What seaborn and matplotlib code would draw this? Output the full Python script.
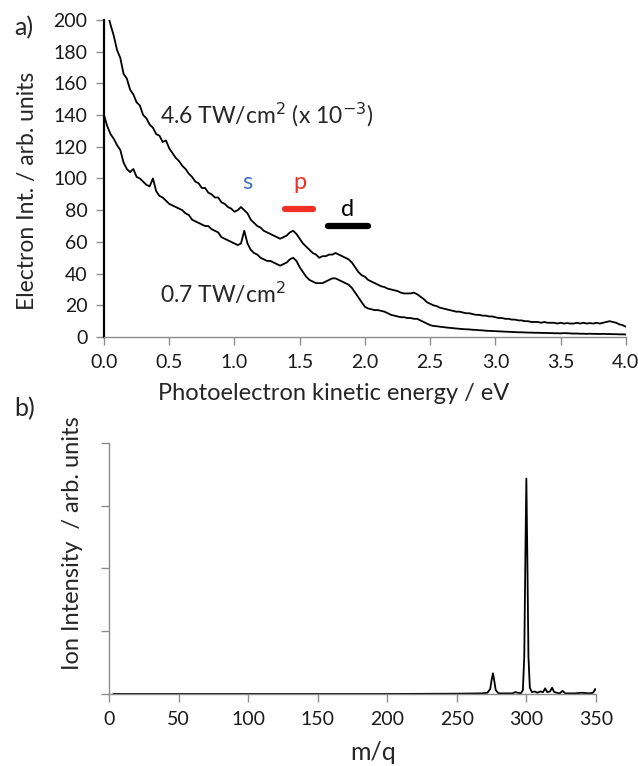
import numpy as np
import pandas as pd
import matplotlib.pyplot as plt
import seaborn as sns

# Photoelectron spectra (0.025 eV steps from 0 to 4 eV)
high_46 = [
    250, 205, 197, 190, 181, 176, 166, 163,
    156, 153, 148, 146, 140, 138, 134, 132,
    128, 127, 123, 124, 119, 116, 113, 111,
    108, 106, 103, 101, 98, 97, 94, 94,
    91, 90, 88, 88, 85, 84, 82, 81,
    79, 80, 82, 80, 78, 74, 72, 70,
    69, 67, 66, 65, 64, 63, 62, 63,
    64, 66, 67, 65, 62, 59, 57, 55,
    53, 52, 50, 51, 51, 52, 52, 53,
    52, 51, 50, 49, 47, 44, 41, 39,
    38, 36, 35, 34, 33, 32, 31.5, 30.5,
    30, 29.5, 29, 28, 27.5, 27.5, 27.5, 28,
    27, 25.5, 24, 22, 21, 20, 19.5, 18.5,
    18, 17.5, 17, 16.5, 16, 16, 15.5, 15,
    15, 14.5, 14, 14, 13.5, 13.5, 13, 13,
    12.5, 12, 12, 11.5, 11.5, 11, 11, 10.5,
    10.5, 10, 10, 9.5, 9.5, 9.5, 9, 9.5,
    9, 9, 9, 8.5, 9, 8.5, 8.8, 8.5,
    8.5, 9, 8.5, 9, 8.5, 8.8, 8.5, 9,
    8.5, 9, 9.5, 10, 9.5, 9, 8, 7.5,
    6.5,
]
low_07 = [
    140, 133, 128, 125, 121, 118, 110, 106,
    104, 106, 101, 100, 98, 96, 95, 100,
    92, 89, 88, 86, 84, 83, 82, 81,
    80, 78, 77, 74, 73, 72, 71, 70,
    70, 68, 67, 66, 63, 62, 61, 60,
    59, 58, 59, 67, 59, 55, 53, 52,
    50, 49, 48, 48, 47, 46, 45, 46,
    47, 49, 50, 48, 44, 41, 38, 36,
    35, 34, 34, 34, 35, 36, 37, 37,
    36, 35, 34, 33, 31, 28, 25, 22,
    19, 18, 17.5, 17, 17, 16.5, 16, 15,
    14, 13.5, 13, 12.5, 12.5, 12, 12, 11.5,
    11.5, 10.5, 9.5, 8.5, 7.5, 7, 6.8, 6.5,
    6.3, 6, 5.8, 5.6, 5.4, 5.2, 5, 4.9,
    4.8, 4.6, 4.5, 4.3, 4.2, 4, 3.9, 3.8,
    3.7, 3.6, 3.5, 3.4, 3.3, 3.2, 3.1, 3,
    3, 2.9, 2.8, 2.8, 2.7, 2.7, 2.6, 2.6,
    2.5, 2.5, 2.4, 2.4, 2.3, 2.5, 2.4, 2.3,
    2.2, 2.2, 2.1, 2.1, 2, 2.1, 2, 2,
    1.9, 2, 1.9, 1.9, 1.8, 1.8, 1.7, 1.7,
    1.6,
]
energy = np.linspace(0, 4, len(high_46))

# s / p / d markers
orbital_labels = ['s', 'p', 'd']
orbital_colors = ['#4472c4', '#ee3124', 'black']
bar_start = [1.39, 1.72]
bar_end = [1.60, 2.02]
bar_level = [80.5, 70]
bar_colors = ['#ee3124', 'black']

# Mass spectrum
mq = [3, 100, 200, 250, 268, 272, 274, 275, 276, 277, 278, 280, 290, 292, 296,
      297.5, 298.5, 299.3, 300, 300.7, 301.5, 302.5, 304, 306, 308, 310, 312,
      313.5, 315, 317, 318.5, 320, 324, 326, 328, 335, 340, 345, 348, 349.5, 350.5]
ion = [0, 0, 0, 0.005, 0.01, 0.02, 0.08, 0.22, 0.33, 0.2, 0.06, 0.01, 0.01, 0.03, 0.01,
       0.06, 0.6, 2.2, 3.43, 2.2, 0.6, 0.1, 0.03, 0.04, 0.02, 0.04, 0.03,
       0.09, 0.03, 0.04, 0.1, 0.03, 0.01, 0.05, 0.01, 0.01, 0.02, 0.01, 0.02, 0.08, 0.06]

pes = pd.DataFrame({
    'energy': np.concatenate([energy, energy]),
    'intensity': high_46 + low_07,
    'power': ['4.6'] * len(high_46) + ['0.7'] * len(low_07),
})
ms = pd.DataFrame({'mq': mq, 'ion': ion})

sns.set_style('ticks')
plt.rcParams['font.family'] = ['Lato', 'DejaVu Sans']
grey = '#8c8c8c'

fig = plt.figure(figsize=(6.38, 7.66), dpi=100)
ax1 = fig.add_axes([0.163, 0.560, 0.818, 0.414])
ax2 = fig.add_axes([0.171, 0.094, 0.763, 0.328])

# a) photoelectron spectra
sns.lineplot(data=pes, x='energy', y='intensity', units='power', estimator=None,
             color='black', lw=1.3, ax=ax1, legend=False)
ax1.set_xlim(0, 4)
ax1.set_ylim(0, 200)
ax1.set_xticks(np.arange(0, 4.01, 0.5))
ax1.set_xticklabels([f'{v:.1f}' for v in np.arange(0, 4.01, 0.5)])
ax1.set_yticks(np.arange(0, 201, 20))
ax1.set_xlabel('Photoelectron kinetic energy / eV', fontsize=17)
ax1.set_ylabel('Electron Int. / arb. units', fontsize=16.5)
ax1.xaxis.set_label_coords(0.44, -0.178)
ax1.yaxis.set_label_coords(-0.146, 0.46)
ax1.hlines(bar_level, bar_start, bar_end, colors=bar_colors, lw=4.5, capstyle='round')
ax1.text(1.10, 91, orbital_labels[0], color=orbital_colors[0], fontsize=17, ha='center', va='bottom')
ax1.text(1.50, 91, orbital_labels[1], color=orbital_colors[1], fontsize=17, ha='center', va='bottom')
ax1.text(1.87, 74, orbital_labels[2], color=orbital_colors[2], fontsize=17, ha='center', va='bottom')
ax1.text(0.43, 140, '4.6 TW/cm$^{2}$ (x 10$^{-3}$)', fontsize=16.5, va='center')
ax1.text(0.43, 27, '0.7 TW/cm$^{2}$', fontsize=16.5, va='center')
fig.text(0.022, 0.964, 'a)', fontsize=18, va='center')

# b) mass spectrum
sns.lineplot(data=ms, x='mq', y='ion', color='black', lw=1.3, ax=ax2)
ax2.set_xlim(0, 350)
ax2.set_ylim(0, 4)
ax2.set_xticks(np.arange(0, 351, 50))
ax2.set_yticks(np.arange(0, 4.1, 1))
ax2.set_yticklabels([])
ax2.set_xlabel('m/q', fontsize=18)
ax2.set_ylabel('Ion Intensity  / arb. units', fontsize=17)
ax2.xaxis.set_label_coords(0.542, -0.231)
ax2.yaxis.set_label_coords(-0.076, 0.6)
fig.text(0.022, 0.466, 'b)', fontsize=18, va='center')

for ax in (ax1, ax2):
    sns.despine(ax=ax)
    for side in ('left', 'bottom'):
        ax.spines[side].set_color(grey)
        ax.spines[side].set_linewidth(1.0)
    ax.tick_params(colors=grey, labelsize=14, length=6, width=1, pad=6)
    for lab in ax.get_xticklabels() + ax.get_yticklabels():
        lab.set_color('#1a1a1a')
    ax.xaxis.label.set_va('center')
    ax.xaxis.label.set_ha('center')
    ax.yaxis.label.set_va('center')
    ax.yaxis.label.set_ha('center')

ax1.spines['left'].set_color('black')
ax1.spines['left'].set_linewidth(1.6)

fig.savefig('out.png', dpi=100, facecolor='white')
